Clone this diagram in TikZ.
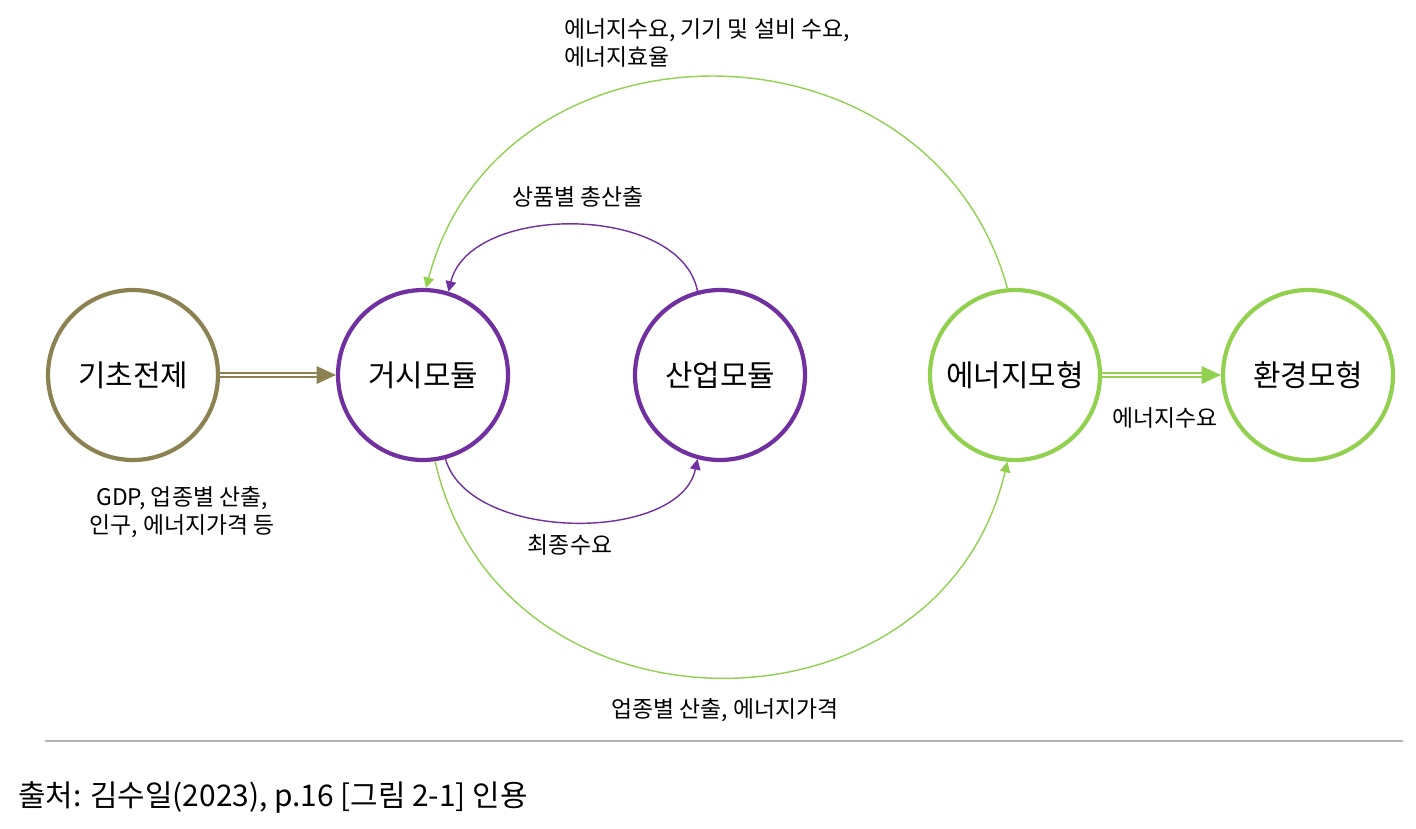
\documentclass[tikz,border=0pt]{standalone}
\usepackage{fontspec}
\setmainfont{Noto Sans CJK KR}
\newfontfamily\footfont{Noto Sans CJK KR}
\usetikzlibrary{arrows.meta,positioning,calc}
\definecolor{olive}{HTML}{8C8150}
\definecolor{violet}{HTML}{7030A0}
\definecolor{lime}{HTML}{92D050}
\tikzset{
  module/.style={circle, draw=#1, line width=2.4pt, minimum size=3.4cm, inner sep=0pt, font=\fontsize{17}{20}\selectfont},
  flow/.style={#1, line width=0.8pt, -{Triangle[length=6pt,width=6pt]}},
  feed/.style={draw=#1, double=white, double distance=1.6pt, line width=0.8pt, -{Triangle[length=11pt,width=10pt]}},
  note/.style={font=\fontsize{13}{16}\selectfont}
}
\begin{document}
\begin{tikzpicture}[x=0.02cm,y=-0.02cm]
\useasboundingbox (0,0) rectangle (1416,828);
% modules
\node[module=olive]  (base) at (133,375) {기초전제};
\node[module=violet] (macro) at (423,375) {거시모듈};
\node[module=violet] (ind) at (720,375) {산업모듈};
\node[module=lime]   (energy) at (1015,375) {에너지모형};
\node[module=lime]   (env) at (1308,375) {환경모형};
% flows
\draw[feed=olive] (base) -- (macro);
\draw[feed=lime] (energy) -- (env);
\draw[flow=violet] (ind.105) .. controls (680,203) and (470,203) .. (macro.73);
\draw[flow=violet] (macro.-75) .. controls (470,543) and (680,543) .. (ind.-105);
\draw[flow=lime] (energy.95) .. controls (930,7) and (500,7) .. (macro.88);
\draw[flow=lime] (macro.-82) .. controls (500,749) and (940,749) .. (energy.-95);
% labels
\node[note, align=left, anchor=north west] at (558,12) {에너지수요, 기기 및 설비 수요,\\에너지효율};
\node[note] at (578,197) {상품별 총산출};
\node[note] at (570,545) {최종수요};
\node[note] at (725,710) {업종별 산출, 에너지가격};
\node[note, align=center] at (182,512) {GDP, 업종별 산출,\\인구, 에너지가격 등};
\node[note] at (1165,418) {에너지수요};
% source
\draw[gray!60, line width=0.6pt] (45,741) -- (1403,741);
\node[anchor=west, font=\footfont\fontsize{17}{20}\selectfont] at (12,797) {출처: 김수일(2023), p.16 [그림 2-1] 인용};
\end{tikzpicture}
\end{document}
